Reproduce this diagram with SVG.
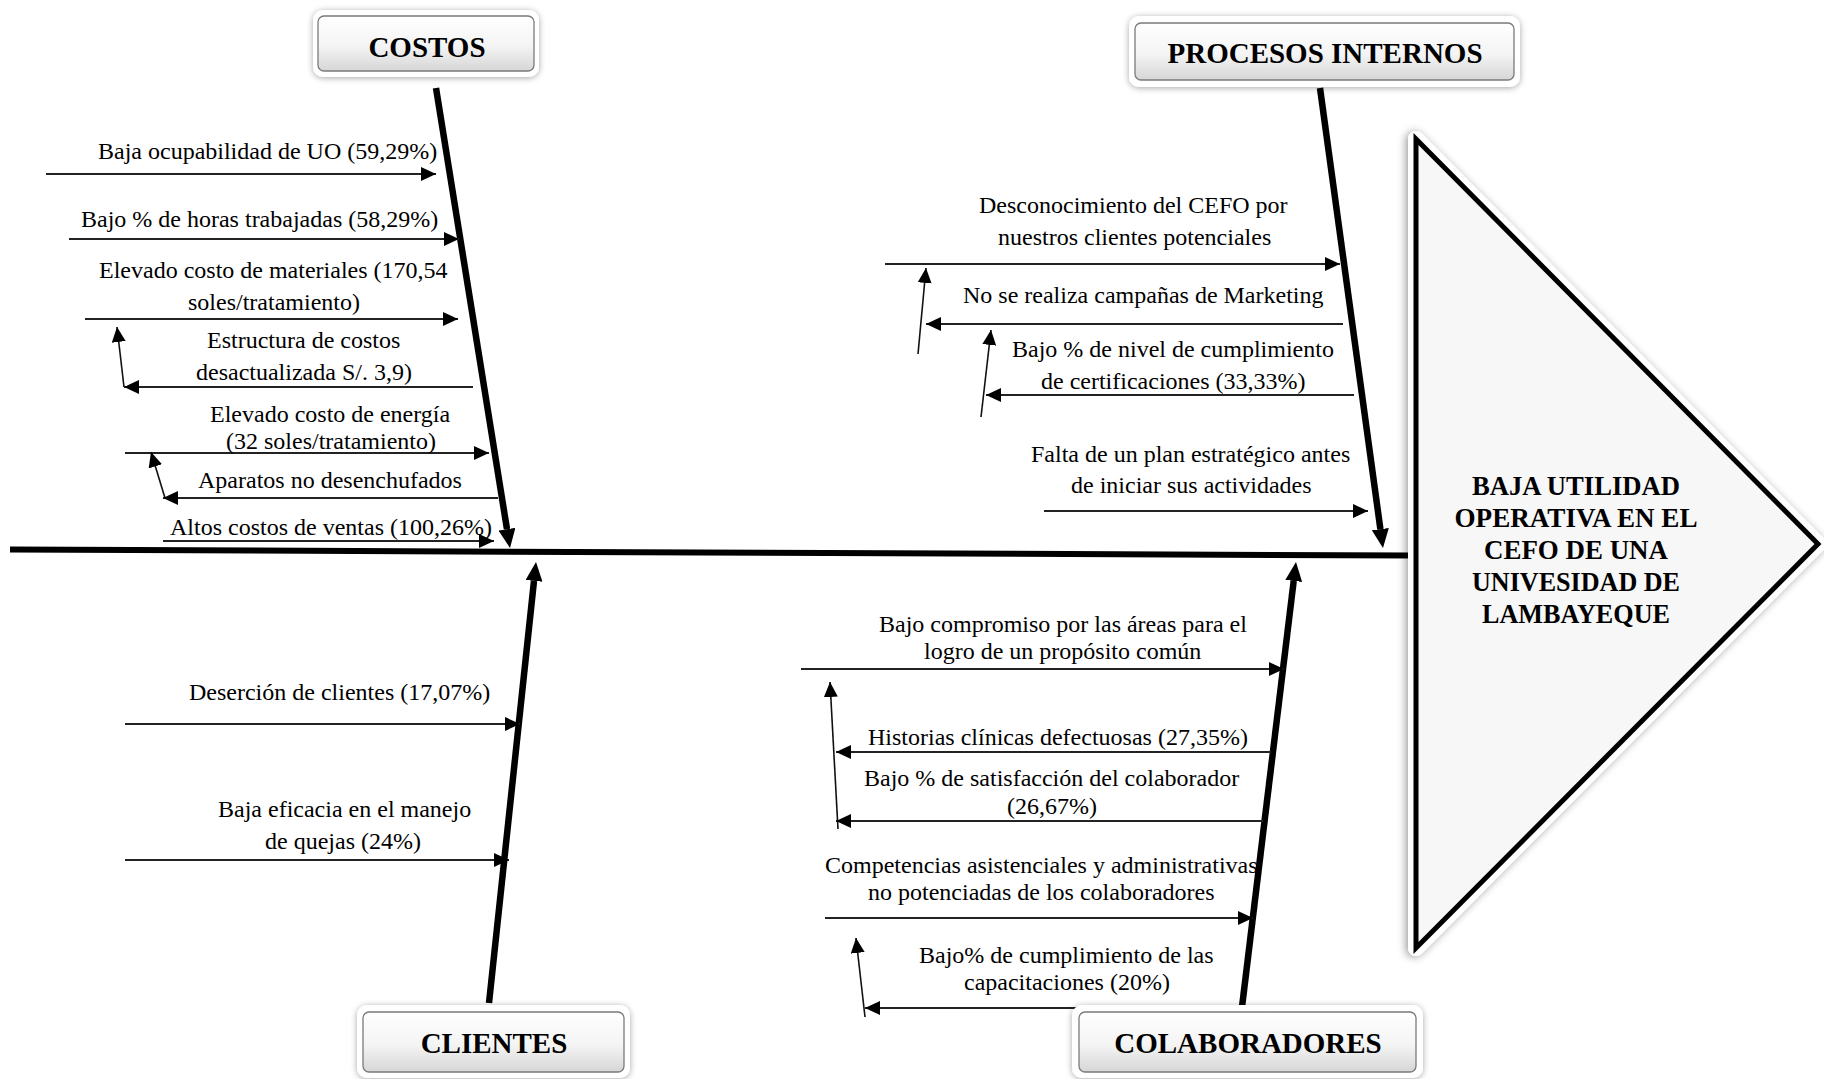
<svg xmlns="http://www.w3.org/2000/svg" width="1824" height="1079" viewBox="0 0 1824 1079">
  <defs>
    <style>
      .lbl { font-family: "Liberation Serif", "Times New Roman", serif; font-size: 24px; fill: #000; }
      .hdr { font-family: "Liberation Serif", "Times New Roman", serif; font-size: 29px; font-weight: bold; fill: #000; text-anchor: middle; }
      .eff { font-family: "Liberation Serif", "Times New Roman", serif; font-size: 27px; font-weight: bold; fill: #000; text-anchor: middle; }
      .spine { stroke: #000; stroke-width: 6.5; fill: none; marker-end: url(#big); }
      .br { stroke: #222; stroke-width: 2; fill: none; marker-end: url(#small); }
      .up { stroke: #111; stroke-width: 1.6; fill: none; marker-end: url(#small); }
      .frame { fill: #fff; filter: url(#shadow); }
      .face { fill: url(#faceGrad); stroke: #7a7a7a; stroke-width: 1.3; }
    </style>
    <linearGradient id="faceGrad" x1="0" y1="0" x2="0" y2="1">
      <stop offset="0" stop-color="#ffffff"/>
      <stop offset="0.55" stop-color="#f4f4f4"/>
      <stop offset="1" stop-color="#d6d6d6"/>
    </linearGradient>
    <filter id="shadow" x="-15%" y="-30%" width="130%" height="160%">
      <feGaussianBlur in="SourceAlpha" stdDeviation="3"/>
      <feOffset dx="0" dy="1" result="blur"/>
      <feFlood flood-color="#000" flood-opacity="0.35"/>
      <feComposite in2="blur" operator="in"/>
      <feMerge><feMergeNode/><feMergeNode in="SourceGraphic"/></feMerge>
    </filter>
    <filter id="triShadow" x="-10%" y="-10%" width="120%" height="120%">
      <feGaussianBlur in="SourceAlpha" stdDeviation="4"/>
      <feOffset dx="-2" dy="1" result="blur"/>
      <feFlood flood-color="#000" flood-opacity="0.4"/>
      <feComposite in2="blur" operator="in"/>
      <feMerge><feMergeNode/><feMergeNode in="SourceGraphic"/></feMerge>
    </filter>
    <marker id="small" viewBox="0 0 15 14" refX="15" refY="7" markerWidth="15" markerHeight="14" markerUnits="userSpaceOnUse" orient="auto">
      <path d="M0,0 L15,7 L0,14 Z" fill="#000"/>
    </marker>
    <marker id="big" viewBox="0 0 19 17" refX="0" refY="8.5" markerWidth="19" markerHeight="17" markerUnits="userSpaceOnUse" orient="auto">
      <path d="M0,0 L19,8.5 L0,17 Z" fill="#000"/>
    </marker>
  </defs>

  <rect width="1824" height="1079" fill="#fff"/>

  <!-- connectors: backbone, category spines, cause arrows -->
  <g id="connectors">
    <line x1="10" y1="549.5" x2="1412" y2="555.5" stroke="#000" stroke-width="6"/>

    <line class="spine" x1="436" y1="88" x2="507" y2="529.2"/>
    <line class="spine" x1="1320" y1="88" x2="1380.4" y2="529.2"/>
    <line class="spine" x1="489" y1="1003" x2="534" y2="580.9"/>
    <line class="spine" x1="1242" y1="1007" x2="1293.7" y2="580.9"/>

    <!-- costos -->
    <line class="br" x1="46" y1="174" x2="436" y2="174"/>
    <line class="br" x1="69" y1="239" x2="459" y2="239"/>
    <line class="br" x1="85" y1="319" x2="458" y2="319"/>
    <line class="up" x1="124" y1="387" x2="117" y2="327"/>
    <line class="br" x1="473" y1="387" x2="124" y2="387"/>
    <line class="br" x1="125" y1="453" x2="489" y2="453"/>
    <line class="up" x1="165" y1="498" x2="151" y2="452"/>
    <line class="br" x1="498" y1="498" x2="163" y2="498"/>
    <line class="br" x1="163" y1="541" x2="494" y2="541"/>

    <!-- procesos internos -->
    <line class="br" x1="885" y1="264" x2="1340" y2="264"/>
    <line class="up" x1="918" y1="354" x2="926" y2="268"/>
    <line class="br" x1="1343" y1="324" x2="926" y2="324"/>
    <line class="up" x1="981" y1="417" x2="991" y2="330"/>
    <line class="br" x1="1354" y1="395" x2="986" y2="395"/>
    <line class="br" x1="1044" y1="511" x2="1368" y2="511"/>

    <!-- clientes -->
    <line class="br" x1="125" y1="724" x2="520" y2="724"/>
    <line class="br" x1="125" y1="860" x2="509" y2="860"/>

    <!-- colaboradores -->
    <line class="br" x1="801" y1="669" x2="1284" y2="669"/>
    <line class="up" x1="838" y1="829" x2="830" y2="682"/>
    <line class="br" x1="1271" y1="752" x2="836" y2="752"/>
    <line class="br" x1="1263" y1="821" x2="836" y2="821"/>
    <line class="br" x1="825" y1="918" x2="1253" y2="918"/>
    <line class="up" x1="865" y1="1017" x2="856" y2="938"/>
    <line class="br" x1="1242" y1="1008" x2="865" y2="1008"/>
  </g>

  <!-- effect head -->
  <g id="effect">
    <polygon points="1416,139 1818,544 1416,948" fill="#fff" stroke="#fff" stroke-width="16" stroke-linejoin="round" filter="url(#triShadow)"/>
    <polygon points="1416,139 1818,544 1416,948" fill="#f7f7f7" stroke="#000" stroke-width="5" stroke-linejoin="miter"/>
    <text class="eff" x="1576" y="495" textLength="208" lengthAdjust="spacingAndGlyphs">BAJA UTILIDAD</text>
    <text class="eff" x="1576" y="527" textLength="243" lengthAdjust="spacingAndGlyphs">OPERATIVA EN EL</text>
    <text class="eff" x="1576" y="559" textLength="184" lengthAdjust="spacingAndGlyphs">CEFO DE UNA</text>
    <text class="eff" x="1576" y="591" textLength="208" lengthAdjust="spacingAndGlyphs">UNIVESIDAD DE</text>
    <text class="eff" x="1576" y="623" textLength="188" lengthAdjust="spacingAndGlyphs">LAMBAYEQUE</text>
  </g>

  <!-- category headers -->
  <g id="cat-costos">
    <rect class="frame" x="313" y="10" width="226" height="67" rx="10"/>
    <rect class="face" x="318" y="16" width="216" height="55" rx="6"/>
    <text class="hdr" x="427" y="57">COSTOS</text>
  </g>
  <g id="cat-procesos">
    <rect class="frame" x="1129" y="16" width="391" height="71" rx="10"/>
    <rect class="face" x="1135" y="23" width="379" height="57" rx="6"/>
    <text class="hdr" x="1325" y="63">PROCESOS INTERNOS</text>
  </g>
  <g id="cat-clientes">
    <rect class="frame" x="357" y="1005" width="273" height="73" rx="10"/>
    <rect class="face" x="363" y="1012" width="261" height="60" rx="6"/>
    <text class="hdr" x="494" y="1053">CLIENTES</text>
  </g>
  <g id="cat-colaboradores">
    <rect class="frame" x="1072" y="1005" width="351" height="73" rx="10"/>
    <rect class="face" x="1079" y="1012" width="337" height="60" rx="6"/>
    <text class="hdr" x="1248" y="1053">COLABORADORES</text>
  </g>

  <!-- cause labels -->
  <g id="causes-costos" class="lbl">
    <text x="98" y="159">Baja ocupabilidad de UO (59,29%)</text>
    <text x="81" y="227">Bajo % de horas trabajadas (58,29%)</text>
    <text x="99" y="278">Elevado costo de materiales (170,54</text>
    <text x="188" y="310">soles/tratamiento)</text>
    <text x="207" y="348">Estructura de costos</text>
    <text x="196" y="380">desactualizada S/. 3,9)</text>
    <text x="210" y="422">Elevado costo de energía</text>
    <text x="226" y="449">(32 soles/tratamiento)</text>
    <text x="198" y="488">Aparatos no desenchufados</text>
    <text x="170" y="535">Altos costos de ventas (100,26%)</text>
  </g>
  <g id="causes-procesos" class="lbl">
    <text x="979" y="213">Desconocimiento del CEFO por</text>
    <text x="998" y="245">nuestros clientes potenciales</text>
    <text x="963" y="303">No se realiza campañas de Marketing</text>
    <text x="1012" y="357">Bajo % de nivel de cumplimiento</text>
    <text x="1041" y="389">de certificaciones (33,33%)</text>
    <text x="1031" y="462">Falta de un plan estratégico antes</text>
    <text x="1071" y="493">de iniciar sus actividades</text>
  </g>
  <g id="causes-clientes" class="lbl">
    <text x="189" y="700">Deserción de clientes (17,07%)</text>
    <text x="218" y="817">Baja eficacia en el manejo</text>
    <text x="265" y="849">de quejas (24%)</text>
  </g>
  <g id="causes-colaboradores" class="lbl">
    <text x="879" y="632">Bajo compromiso por las áreas para el</text>
    <text x="924" y="659">logro de un propósito común</text>
    <text x="868" y="745">Historias clínicas defectuosas (27,35%)</text>
    <text x="864" y="786">Bajo % de satisfacción del colaborador</text>
    <text x="1007" y="814">(26,67%)</text>
    <text x="825" y="873">Competencias asistenciales y administrativas</text>
    <text x="868" y="900">no potenciadas de los colaboradores</text>
    <text x="919" y="963">Bajo% de cumplimiento de las</text>
    <text x="964" y="990">capacitaciones (20%)</text>
  </g>
</svg>
